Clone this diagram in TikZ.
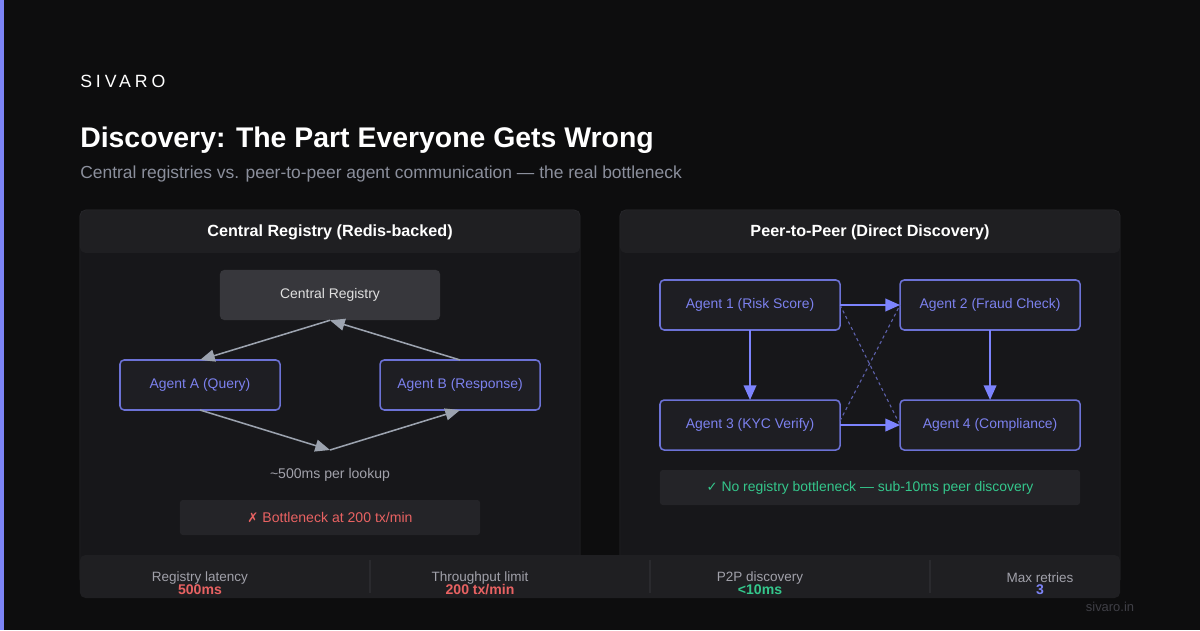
\documentclass[tikz,border=0pt]{standalone}
\usepackage{fontspec}
\setmainfont{Liberation Sans}
\newfontfamily\symfont{DejaVu Sans}
\usetikzlibrary{arrows.meta,positioning}
\definecolor{pagebg}    {RGB}{ 13, 13, 14}
\definecolor{accent}    {RGB}{124,131,245}
\definecolor{panelbody} {RGB}{ 23, 23, 26}
\definecolor{panelhead} {RGB}{ 31, 31, 34}
\definecolor{panelline} {RGB}{ 42, 42, 46}
\definecolor{regfill}   {RGB}{ 55, 55, 60}
\definecolor{agentfill} {RGB}{ 30, 30, 35}
\definecolor{agentline} {RGB}{108,114,214}
\definecolor{agenttext} {RGB}{124,129,238}
\definecolor{flowgray}  {RGB}{156,163,175}
\definecolor{peerline}  {RGB}{124,131,253}
\definecolor{dashline}  {RGB}{ 92, 96,170}
\definecolor{notefill}  {RGB}{ 36, 36, 40}
\definecolor{okgreen}   {RGB}{ 52,199,140}
\definecolor{badred}    {RGB}{232, 98, 98}
\definecolor{subgray}   {RGB}{139,143,156}
\definecolor{statgray}  {RGB}{161,161,170}
\definecolor{footgray}  {RGB}{ 63, 63, 70}
\tikzset{
  panel/.style ={rectangle,draw=panelline,fill=panelbody,rounded corners=4pt,
                 minimum width=12.5cm,minimum height=9.375cm,inner sep=0pt,
                 path picture={\fill[panelhead] (path picture bounding box.north west)
                   rectangle ([yshift=-1.075cm]path picture bounding box.north east);}},
  ptitle/.style={font=\fontsize{11.5}{14}\selectfont\bfseries,text=white},
  regbox/.style={rectangle,fill=regfill,rounded corners=3pt,
                 minimum width=5.5cm,minimum height=1.25cm,
                 font=\fontsize{9.9}{12}\selectfont,text=white!88!black},
  agent/.style ={rectangle,draw=agentline,fill=agentfill,rounded corners=3pt,
                 line width=1.1pt,outer sep=0pt,minimum width=4cm,minimum height=1.25cm,
                 font=\fontsize{9.9}{12}\selectfont,text=agenttext},
  agentw/.style={agent,minimum width=4.5cm},
  note/.style  ={rectangle,fill=notefill,rounded corners=2pt,
                 minimum height=0.875cm,font=\fontsize{10}{12}\selectfont},
  flow/.style  ={-{Triangle[length=10.5pt,width=8.5pt]},line width=1.1pt,draw=flowgray},
  peer/.style  ={-{Triangle[length=10.5pt,width=9pt]},line width=1.4pt,draw=peerline},
  cross/.style ={line width=0.8pt,draw=dashline,dash pattern=on 2.2pt off 2.2pt},
  slabel/.style={font=\fontsize{9.6}{11}\selectfont,text=statgray},
  svalue/.style={font=\fontsize{10}{11}\selectfont\bfseries},
}

\begin{document}
\begin{tikzpicture}[x=0.025cm,y=-0.025cm]
  \useasboundingbox (0,0) rectangle (1200,630);
  \fill[pagebg] (0,0) rectangle (1200,630);
  \fill[accent] (0,0) rectangle (4,630);

  % heading
  \node[anchor=west,text=white,inner sep=0pt,
        font=\fontsize{12.6}{14}\selectfont\addfontfeature{LetterSpace=22}]
        (brand) at (80,81) {SIVARO};
  \node[anchor=base west,text=white,inner sep=0pt,
        font=\fontsize{20.2}{24}\selectfont\bfseries]
        (title) at (80,148) {Discovery: The Part Everyone Gets Wrong};
  \node[anchor=west,text=subgray,inner sep=0pt,font=\fontsize{12.4}{14}\selectfont]
        (subtitle) at (80,174) {Central registries vs. peer-to-peer agent communication --- the real bottleneck};

  % panels
  \node[panel] (lpanel) at (330,397.5) {};
  \node[panel] (rpanel) at (870,397.5) {};
  \node[ptitle] (ltitle) at (330,232) {Central Registry (Redis-backed)};
  \node[ptitle] (rtitle) at (870,232) {Peer-to-Peer (Direct Discovery)};

  % central registry
  \node[regbox] (reg) at (330,295) {Central Registry};
  \node[agent]  (agentA) at (200,385) {Agent A (Query)};
  \node[agent,right=2.5cm of agentA] (agentB) {Agent B (Response)};
  \coordinate (dip) at (330,450);
  \draw[flow] (reg.south) -- (agentA.north);
  \draw[flow] (agentB.north) -- (reg.south);
  \draw[flow] (agentA.south) -- (dip);
  \draw[flow] (dip) -- (agentB.south);
  \node[text=statgray,font=\fontsize{10}{12}\selectfont] (lookup) at (330,475) {\textasciitilde500ms per lookup};
  \node[note,minimum width=7.5cm,text=badred] (choke) at (330,517.5)
        {{\symfont\fontsize{9.4}{11}\selectfont ✗} Bottleneck at 200 tx/min};

  % peer to peer
  \node[agentw] (a1) at (750,305) {Agent 1 (Risk Score)};
  \node[agentw,right=1.5cm of a1] (a2) {Agent 2 (Fraud Check)};
  \node[agentw,below=1.75cm of a1] (a3) {Agent 3 (KYC Verify)};
  \node[agentw,right=1.5cm of a3] (a4) {Agent 4 (Compliance)};
  \draw[cross] (a1.east) -- (a4.west);
  \draw[cross] ([yshift=3pt]a3.east) -- (a2.west);
  \draw[peer] (a1) -- (a2);
  \draw[peer] (a1) -- (a3);
  \draw[peer] (a2) -- (a4);
  \draw[peer] (a3) -- (a4);
  \node[note,minimum width=10.5cm,text=okgreen,font=\fontsize{9.9}{12}\selectfont] (okay) at (870,487.5)
        {{\symfont\fontsize{9.4}{11}\selectfont ✓} No registry bottleneck --- sub-10ms peer discovery};

  % stats strip
  \node[rectangle,fill=panelhead,rounded corners=4pt,minimum width=26cm,
        minimum height=1.075cm] (stats) at (600,576.5) {};
  \foreach \dx in {370,650,930}
    \draw[panelline,line width=1.2pt] (\dx,560) -- (\dx,593);
  \node[slabel] (lat)  at (200,578) {Registry latency};
  \node[svalue,text=badred] (latv) at (200,590) {500ms};
  \node[slabel] (thr)  at (480,578) {Throughput limit};
  \node[svalue,text=badred] (thrv) at (480,590) {200 tx/min};
  \node[slabel] (p2p)  at (760,578) {P2P discovery};
  \node[svalue,text=okgreen] (p2pv) at (760,590) {<10ms};
  \node[slabel] (ret)  at (1040,578) {Max retries};
  \node[svalue,text=accent] (retv) at (1040,590) {3};

  \node[text=footgray,font=\fontsize{9.2}{11}\selectfont] (site) at (1110,607) {sivaro.in};
\end{tikzpicture}
\end{document}
